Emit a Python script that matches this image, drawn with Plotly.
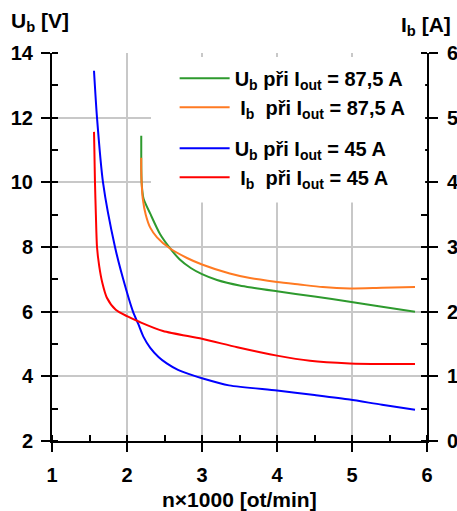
import plotly.graph_objects as go

# ---- data ----
n_ub_875 = [2.19, 2.19, 2.195, 2.22, 2.31, 2.44, 2.57, 2.70, 2.85, 3.00, 3.20, 3.50, 4.00, 4.50, 4.97, 5.40, 5.84]
ub_875 = [11.44, 10.80, 10.00, 9.50, 9.03, 8.40, 7.97, 7.62, 7.35, 7.16, 6.98, 6.81, 6.63, 6.47, 6.31, 6.15, 6.00]

n_ib_875 = [2.19, 2.19, 2.195, 2.21, 2.25, 2.31, 2.40, 2.57, 2.80, 3.00, 3.37, 3.64, 4.00, 4.30, 4.61, 4.97, 5.40, 5.84]
ib_875 = [4.38, 4.20, 4.00, 3.75, 3.50, 3.30, 3.15, 2.98, 2.83, 2.73, 2.59, 2.52, 2.46, 2.42, 2.38, 2.36, 2.37, 2.38]

n_ub_45 = [1.56, 1.60, 1.68, 1.84, 1.95, 2.08, 2.15, 2.22, 2.31, 2.42, 2.53, 2.68, 2.84, 3.00, 3.36, 4.00, 4.50, 4.97, 5.40, 5.84]
ub_45 = [13.45, 12.00, 10.00, 8.00, 7.00, 6.00, 5.62, 5.22, 4.88, 4.60, 4.40, 4.20, 4.06, 3.94, 3.72, 3.56, 3.42, 3.28, 3.12, 2.97]

n_ib_45 = [1.56, 1.565, 1.573, 1.585, 1.60, 1.63, 1.67, 1.73, 1.85, 2.00, 2.17, 2.48, 3.00, 3.47, 4.00, 4.44, 4.97, 5.40, 5.84]
ib_45 = [4.78, 4.50, 4.00, 3.50, 3.00, 2.70, 2.45, 2.22, 2.03, 1.93, 1.84, 1.70, 1.58, 1.45, 1.32, 1.24, 1.20, 1.19, 1.19]

legend_names = [
    "U<sub>b</sub> při I<sub>out</sub> = 87,5 A",
    " I<sub>b</sub>  při I<sub>out</sub> = 87,5 A",
    "U<sub>b</sub> při I<sub>out</sub> = 45 A",
    " I<sub>b</sub>  při I<sub>out</sub> = 45 A",
]
colors = ["#2e9a2e", "#ff7a22", "#0000ff", "#ff0000"]

x_ticks = [1, 2, 3, 4, 5, 6]
y_left_ticks = [2, 4, 6, 8, 10, 12, 14]
y_right_ticks = [0, 1, 2, 3, 4, 5, 6]

FONT = "Liberation Sans, Arial, sans-serif"
GRID = "#c8c8c8"

fig = go.Figure()
series = [
    (n_ub_875, ub_875, "y", "g1"),
    (n_ib_875, ib_875, "y2", "g1"),
    (n_ub_45, ub_45, "y", "g2"),
    (n_ib_45, ib_45, "y2", "g2"),
]
for (xs, ys, ya, grp), name, col in zip(series, legend_names, colors):
    fig.add_trace(go.Scatter(
        x=xs, y=ys, yaxis=ya, name=name, mode="lines", legendgroup=grp,
        line=dict(color=col, width=2, shape="spline", smoothing=0.7),
        hoverinfo="skip",
    ))

axis_common = dict(
    showline=True, linecolor="black", linewidth=2,
    ticks="outside", ticklen=9, tickwidth=2, tickcolor="black",
    tickfont=dict(family=FONT, size=20, color="black", weight="bold"),
    zeroline=False, automargin=False,
)
inner_ticks = dict(
    ticks="inside", ticklen=7, tickwidth=2, tickcolor="black",
    showticklabels=False, showgrid=False, showline=False, zeroline=False,
)

fig.update_layout(
    width=457, height=511,
    margin=dict(l=52, r=30, t=53, b=70),
    paper_bgcolor="white", plot_bgcolor="rgba(0,0,0,0)",
    showlegend=True,
    xaxis=dict(
        range=[1, 6], tickvals=x_ticks, showgrid=True, gridcolor=GRID, gridwidth=2,
        minor=dict(dtick=0.5, tick0=1, ticks="inside", ticklen=6, tickwidth=2, tickcolor="black", showgrid=False),
        ticklabelstandoff=6, **axis_common,
    ),
    yaxis=dict(
        range=[2, 14], tickvals=y_left_ticks, showgrid=True, gridcolor=GRID, gridwidth=2,
        minor=dict(dtick=1, tick0=2, ticks="inside", ticklen=6, tickwidth=2, tickcolor="black", showgrid=False),
        ticklabelstandoff=4, **axis_common,
    ),
    yaxis2=dict(
        range=[0, 6], tickvals=y_right_ticks, overlaying="y", side="right", anchor="x",
        showgrid=True, gridcolor=GRID, gridwidth=2,
        minor=dict(dtick=0.5, tick0=0, ticks="inside", ticklen=6, tickwidth=2, tickcolor="black", showgrid=False),
        ticklabelstandoff=5, **axis_common,
    ),
    xaxis3=dict(range=[1, 6], tickvals=x_ticks, overlaying="x", anchor="y", side="bottom", **inner_ticks),
    yaxis3=dict(range=[2, 14], tickvals=y_left_ticks, overlaying="y", anchor="x", side="left", **inner_ticks),
    yaxis4=dict(range=[0, 6], tickvals=y_right_ticks, overlaying="y", anchor="x", side="right", **inner_ticks),
    legend=dict(
        x=0.327, y=0.985, xanchor="left", yanchor="top",
        bgcolor="rgba(0,0,0,0)", borderwidth=0,
        font=dict(family=FONT, size=20, color="black", weight="bold"),
        tracegroupgap=12, traceorder="grouped", itemwidth=50,
    ),
    shapes=[dict(
        type="rect", xref="paper", yref="paper", x0=0.264, x1=0.995, y0=0.615, y1=0.99,
        fillcolor="white", line=dict(width=0), layer="above",
    )],
    annotations=[
        dict(text="U<sub>b</sub> [V]", xref="paper", yref="paper", x=-0.115, y=1.08,
             xanchor="left", yanchor="middle", showarrow=False,
             font=dict(family=FONT, size=21, color="black", weight="bold")),
        dict(text="I<sub>b</sub> [A]", xref="paper", yref="paper", x=0.997, y=1.07,
             xanchor="center", yanchor="middle", showarrow=False,
             font=dict(family=FONT, size=21, color="black", weight="bold")),
        dict(text="n×1000 [ot/min]", xref="paper", yref="paper", x=0.5, y=-0.15,
             xanchor="center", yanchor="middle", showarrow=False,
             font=dict(family=FONT, size=21, color="black", weight="bold")),
    ],
)

fig.write_html("out.html")
